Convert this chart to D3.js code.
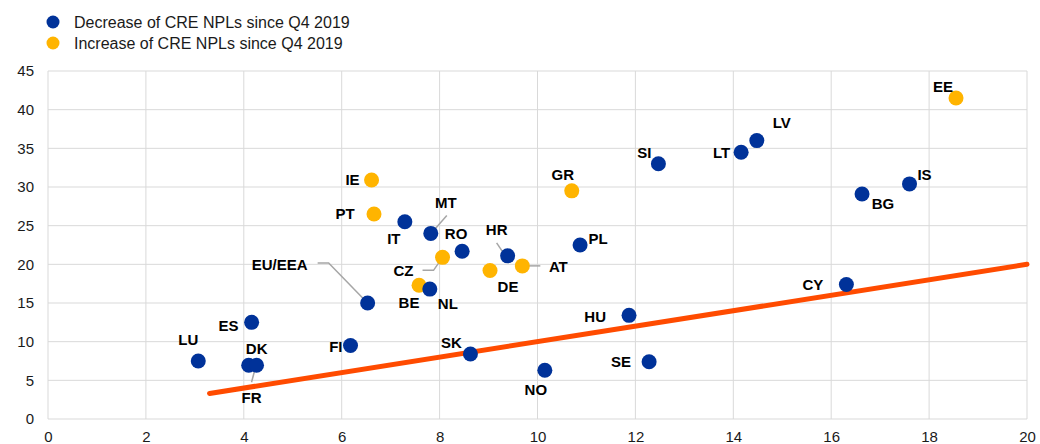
<!DOCTYPE html>
<html>
<head>
<meta charset="utf-8">
<script src="https://cdn.jsdelivr.net/npm/d3@7"></script>
<style>
    body { margin: 0; background: #fff; }
    svg { display: block; font-family: "Liberation Sans", Arial, sans-serif; }
</style>
</head>
<body>
<div id="chart"></div>
<script>
// --- data ---
const countries = ['LU', 'ES', 'DK', 'FR', 'FI', 'EU/EEA', 'IE', 'PT', 'IT', 'MT', 'BE', 'NL', 'CZ', 'RO',
    'SK', 'DE', 'HR', 'AT', 'NO', 'GR', 'PL', 'HU', 'SE', 'SI', 'LT', 'LV', 'CY', 'BG', 'IS', 'EE'];
const xValues = [3.07, 4.16, 4.10, 4.26, 6.18, 6.53, 6.61, 6.66, 7.29, 7.82, 7.58, 7.80, 8.06, 8.46,
    8.63, 9.03, 9.39, 9.69, 10.15, 10.70, 10.87, 11.87, 12.28, 12.47, 14.16, 14.48, 16.31, 16.63, 17.60, 18.55];
const yValues = [7.5, 12.5, 6.95, 6.95, 9.5, 15.0, 30.9, 26.5, 25.5, 24.0, 17.3, 16.8, 20.9, 21.7,
    8.4, 19.2, 21.1, 19.8, 6.3, 29.5, 22.5, 13.4, 7.4, 33.0, 34.5, 36.0, 17.4, 29.1, 30.4, 41.5];
const increased = ['IE', 'PT', 'CZ', 'BE', 'DE', 'AT', 'GR', 'EE'];
const seriesNames = ['Decrease of CRE NPLs since Q4 2019', 'Increase of CRE NPLs since Q4 2019'];
const xTicks = [0, 2, 4, 6, 8, 10, 12, 14, 16, 18, 20];
const yTicks = [0, 5, 10, 15, 20, 25, 30, 35, 40, 45];
const diagonal = [3.3, 20]; // y = x reference line

// label placement relative to the dot (pixels): [dx, dy, anchor]
const labelPos = {
    'LU': [-10, -22, 'middle'], 'ES': [-13, 3, 'end'], 'DK': [8, -17, 'middle'], 'FR': [-5, 32, 'middle'],
    'FI': [-8, 1, 'end'], 'EU/EEA': [-88, -39, 'middle'], 'IE': [-19, -1, 'middle'], 'PT': [-29, -1, 'middle'],
    'IT': [-11, 17, 'middle'], 'MT': [15, -31, 'middle'], 'BE': [-10, 17, 'middle'], 'NL': [18, 14, 'middle'],
    'CZ': [-39, 13, 'middle'], 'RO': [-6, -18, 'middle'], 'SK': [-19, -12, 'middle'], 'DE': [18, 16, 'middle'],
    'HR': [-11, -26, 'middle'], 'AT': [36, 1, 'middle'], 'NO': [-9, 19, 'middle'], 'GR': [-9, -16, 'middle'],
    'PL': [18, -7, 'middle'], 'HU': [-23, 1, 'end'], 'SE': [-18, 0, 'end'], 'SI': [-14, -11, 'middle'],
    'LT': [-11, 0, 'end'], 'LV': [25, -18, 'middle'], 'CY': [-23, 0, 'end'], 'BG': [21, 10, 'middle'],
    'IS': [15, -9, 'middle'], 'EE': [-13, -12, 'middle']
};
// leader lines relative to the dot (pixels)
const leaders = {
    'FR': [[-1, 2], [-5, 17]],
    'EU/EEA': [[-50, -40], [-39, -40], [-3, -3]],
    'MT': [[16, -18], [2, -2]],
    'CZ': [[-20, 13], [-9, 13], [0, 0]],
    'HR': [[-11, -13], [-3, -1]],
    'AT': [[5, 0], [18, 0]]
};

const width = 1040, height = 444;
const margin = { top: 71, right: 13, bottom: 25, left: 48 };

const svg = d3.select('#chart').append('svg')
    .attr('width', width)
    .attr('height', height);

const x = d3.scaleLinear().domain([0, 20]).range([margin.left, width - margin.right]);
const y = d3.scaleLinear().domain([0, 45]).range([height - margin.bottom, margin.top]);

// gridlines
svg.append('g').selectAll('line.vg').data(xTicks).join('line')
    .attr('x1', d => x(d)).attr('x2', d => x(d))
    .attr('y1', y(0)).attr('y2', y(45))
    .attr('stroke', '#d9d9d9').attr('stroke-width', 1);
svg.append('g').selectAll('line.hg').data(yTicks).join('line')
    .attr('x1', x(0)).attr('x2', x(20))
    .attr('y1', d => y(d)).attr('y2', d => y(d))
    .attr('stroke', '#d9d9d9').attr('stroke-width', 1);

// axes (labels only)
const xAxis = svg.append('g')
    .attr('transform', `translate(0,${y(0)})`)
    .call(d3.axisBottom(x).tickValues(xTicks).tickSize(0).tickPadding(12));
const yAxis = svg.append('g')
    .attr('transform', `translate(${x(0)},0)`)
    .call(d3.axisLeft(y).tickValues(yTicks).tickSize(0).tickPadding(14));
[xAxis, yAxis].forEach(a => {
    a.select('.domain').remove();
    a.selectAll('text')
        .style('font-family', '"Liberation Sans", Arial, sans-serif')
        .style('font-size', '15px')
        .attr('fill', '#1a1a1a');
});

// y = x line
svg.append('line')
    .attr('x1', x(diagonal[0])).attr('y1', y(diagonal[0]))
    .attr('x2', x(diagonal[1])).attr('y2', y(diagonal[1]))
    .attr('stroke', '#ff4b00')
    .attr('stroke-width', 5)
    .attr('stroke-linecap', 'round');

const points = countries.map((c, i) => ({
    code: c, x: xValues[i], y: yValues[i], up: increased.includes(c)
}));

// leader lines
const lineGen = d3.line();
svg.append('g').selectAll('path').data(points.filter(p => leaders[p.code])).join('path')
    .attr('d', p => lineGen(leaders[p.code].map(([dx, dy]) => [x(p.x) + dx, y(p.y) + dy])))
    .attr('fill', 'none')
    .attr('stroke', '#a6a6a6')
    .attr('stroke-width', 1.5);

// dots
svg.append('g').selectAll('circle').data(points).join('circle')
    .attr('cx', p => x(p.x))
    .attr('cy', p => y(p.y))
    .attr('r', 7.5)
    .attr('fill', p => p.up ? '#ffb400' : '#003299');

// labels
svg.append('g').selectAll('text').data(points).join('text')
    .attr('x', p => x(p.x) + labelPos[p.code][0])
    .attr('y', p => y(p.y) + labelPos[p.code][1])
    .attr('text-anchor', p => labelPos[p.code][2])
    .attr('dominant-baseline', 'central')
    .style('font-size', '15px')
    .style('font-weight', 'bold')
    .attr('fill', '#000')
    .text(p => p.code);

// legend
const legend = svg.append('g').attr('transform', 'translate(53,22)');
seriesNames.forEach((name, i) => {
    const row = legend.append('g').attr('transform', `translate(0,${i * 21})`);
    row.append('circle').attr('r', 6.5).attr('fill', i === 0 ? '#003299' : '#ffb400');
    row.append('text')
        .attr('x', 21)
        .attr('dominant-baseline', 'central')
        .style('font-size', '16px')
        .attr('fill', '#1a1a1a')
        .text(name);
});
</script>
</body>
</html>
